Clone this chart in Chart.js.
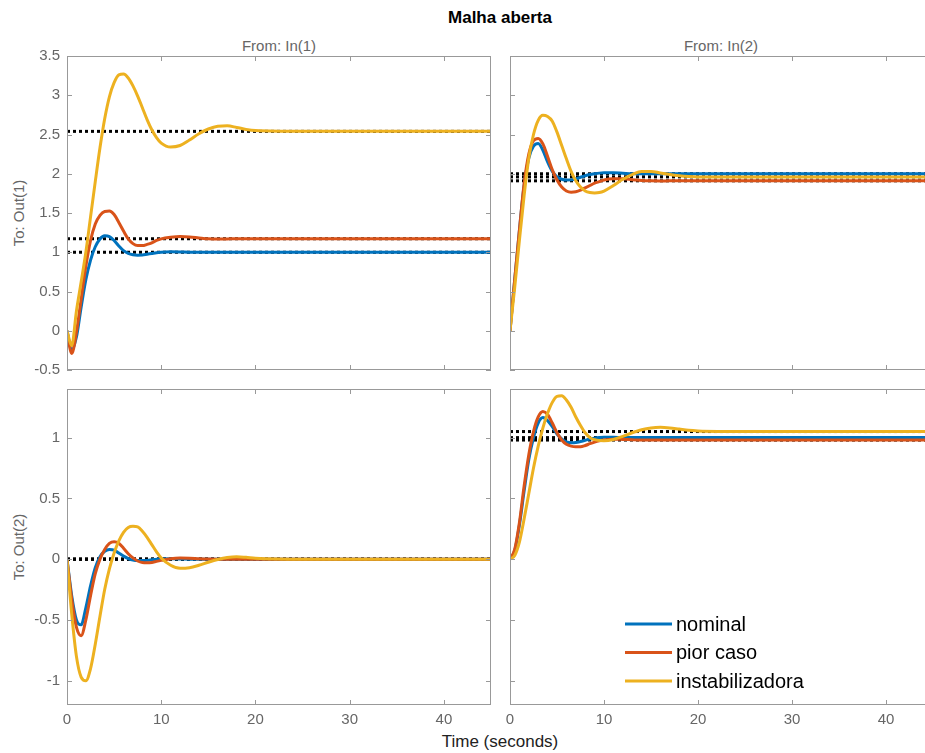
<!DOCTYPE html>
<html>
<head>
<meta charset="utf-8">
<title>Malha aberta</title>
<script src="https://cdn.jsdelivr.net/npm/chart.js@4.4.1/dist/chart.umd.min.js"></script>
<style>
  body { margin: 0; background: #fff; overflow: hidden; width: 925px; height: 753px; position: relative;
         font-family: "Liberation Sans", Arial, Helvetica, sans-serif; }
  canvas { position: absolute; }
  .lbl { position: absolute; white-space: nowrap; color: #666; font-size: 15px; transform: translate(-50%, -50%); }
  .rot { transform: translate(-50%, -50%) rotate(-90deg); }
</style>
</head>
<body>
<div class="lbl" style="left:500px;top:18px;color:#000;font-weight:bold;font-size:17px;">Malha aberta</div>
<div class="lbl" style="left:279px;top:45px;">From: In(1)</div>
<div class="lbl" style="left:721px;top:45px;">From: In(2)</div>
<div class="lbl rot" style="left:18px;top:213px;">To: Out(1)</div>
<div class="lbl rot" style="left:18px;top:547px;">To: Out(2)</div>
<div class="lbl" style="left:500px;top:742px;color:#222;font-size:17px;">Time (seconds)</div>

<canvas id="c11" width="495" height="324" style="left:0;top:50px;"></canvas>
<canvas id="c12" width="431" height="324" style="left:506px;top:50px;"></canvas>
<canvas id="c21" width="495" height="352" style="left:0;top:383px;"></canvas>
<canvas id="c22" width="431" height="352" style="left:506px;top:383px;"></canvas>

<script>
// time samples (s) shared by every response
var t = [0, 0.5, 1, 1.5, 2, 2.5, 3, 3.5, 4, 4.5, 5, 5.5, 6, 6.5, 7, 7.5, 8, 8.5, 9, 9.5, 10,
         11, 12, 13, 14, 15, 16, 17, 18, 19, 20, 25, 30, 35, 40, 45];

var seriesNames = ['nominal', 'pior caso', 'instabilizadora'];
var seriesColors = ['#0072BD', '#D95319', '#EDB120'];

var xTicks = [0, 10, 20, 30, 40];
var yTicksTop = [-0.5, 0, 0.5, 1, 1.5, 2, 2.5, 3, 3.5];
var yTicksBottom = [-1, -0.5, 0, 0.5, 1];

// From In(1) -> Out(1)
var o1i1Nominal = [0, -0.25, -0.08, 0.3, 0.65, 0.9, 1.07, 1.17, 1.21, 1.2, 1.15, 1.08, 1.02, 0.985, 0.968, 0.963, 0.965, 0.975, 0.985, 0.995, 1.0,
                   1.005, 1.004, 1.0, 1.0, 1.0, 1.0, 1.0, 1.0, 1.0, 1.0, 1.0, 1.0, 1.0, 1.0, 1.0];
var o1i1Pior = [0, -0.29, -0.02, 0.4, 0.82, 1.15, 1.36, 1.47, 1.52, 1.525, 1.48, 1.38, 1.27, 1.17, 1.11, 1.085, 1.085, 1.1, 1.12, 1.15, 1.17,
                1.19, 1.2, 1.195, 1.183, 1.172, 1.168, 1.17, 1.172, 1.172, 1.172, 1.172, 1.172, 1.172, 1.172, 1.172];
var o1i1Instab = [0, -0.19, 0.25, 0.62, 1.0, 1.45, 1.9, 2.33, 2.7, 2.98, 3.16, 3.26, 3.27, 3.22, 3.12, 2.99, 2.84, 2.69, 2.56, 2.46, 2.39,
                  2.34, 2.36, 2.43, 2.51, 2.57, 2.605, 2.61, 2.59, 2.565, 2.55, 2.54, 2.54, 2.54, 2.54, 2.54];
var o1i1Steady = [1.0, 1.172, 2.54];

// From In(2) -> Out(1)
var o1i2Nominal = [0, 0.65, 1.28, 1.85, 2.2, 2.35, 2.385, 2.3, 2.15, 2.03, 1.96, 1.93, 1.92, 1.922, 1.935, 1.955, 1.975, 1.99, 2.0, 2.008, 2.012,
                   2.012, 2.006, 2.0, 2.0, 2.0, 2.0, 2.0, 2.0, 2.0, 2.0, 2.0, 2.0, 2.0, 2.0, 2.0];
var o1i2Pior = [0, 0.65, 1.28, 1.87, 2.25, 2.42, 2.45, 2.38, 2.22, 2.05, 1.92, 1.83, 1.78, 1.765, 1.77, 1.79, 1.82, 1.85, 1.88, 1.9, 1.92,
                1.935, 1.935, 1.925, 1.915, 1.91, 1.908, 1.91, 1.91, 1.91, 1.91, 1.91, 1.91, 1.91, 1.91, 1.91];
var o1i2Instab = [0, 0.55, 1.15, 1.72, 2.2, 2.5, 2.68, 2.745, 2.73, 2.67, 2.53, 2.36, 2.19, 2.03, 1.91, 1.83, 1.78, 1.76, 1.755, 1.76, 1.78,
                  1.85, 1.93, 1.99, 2.03, 2.03, 2.01, 1.99, 1.975, 1.965, 1.96, 1.96, 1.96, 1.96, 1.96, 1.96];
var o1i2Steady = [2.0, 1.91, 1.96];

// From In(1) -> Out(2)
var o2i1Nominal = [0, -0.3, -0.5, -0.54, -0.4, -0.22, -0.07, 0.02, 0.065, 0.08, 0.075, 0.05, 0.025, 0.005, -0.008, -0.012, -0.012, -0.01, -0.005, 0, 0.002,
                   0.003, 0.002, 0, 0, 0, 0, 0, 0, 0, 0, 0, 0, 0, 0, 0];
var o2i1Pior = [0, -0.33, -0.56, -0.63, -0.5, -0.3, -0.12, 0.0, 0.08, 0.13, 0.143, 0.13, 0.09, 0.045, 0.01, -0.015, -0.028, -0.03, -0.027, -0.018, -0.01,
                0.004, 0.009, 0.008, 0.004, 0.001, 0, 0, 0, 0, 0, 0, 0, 0, 0, 0];
var o2i1Instab = [0, -0.45, -0.8, -0.97, -1.0, -0.9, -0.7, -0.47, -0.25, -0.08, 0.05, 0.15, 0.22, 0.26, 0.27, 0.265, 0.23, 0.18, 0.12, 0.06, 0.01,
                  -0.05, -0.075, -0.07, -0.05, -0.025, -0.003, 0.013, 0.02, 0.015, 0.008, 0, 0, 0, 0, 0];
var o2i1Steady = [0, 0, 0];

// From In(2) -> Out(2)
var o2i2Nominal = [0, 0.07, 0.28, 0.56, 0.82, 1.0, 1.12, 1.165, 1.14, 1.09, 1.03, 0.99, 0.965, 0.958, 0.96, 0.968, 0.978, 0.988, 0.995, 1.0, 1.003,
                   1.003, 1.0, 1.0, 1.0, 1.0, 1.0, 1.0, 1.0, 1.0, 1.0, 1.0, 1.0, 1.0, 1.0, 1.0];
var o2i2Pior = [0, 0.08, 0.3, 0.6, 0.86, 1.05, 1.17, 1.215, 1.19, 1.12, 1.04, 0.98, 0.945, 0.93, 0.925, 0.925, 0.935, 0.95, 0.963, 0.973, 0.98,
                0.987, 0.985, 0.982, 0.98, 0.98, 0.98, 0.98, 0.98, 0.98, 0.98, 0.98, 0.98, 0.98, 0.98, 0.98];
var o2i2Instab = [0, 0.03, 0.14, 0.33, 0.54, 0.75, 0.93, 1.08, 1.2, 1.29, 1.34, 1.345, 1.31, 1.25, 1.17, 1.1, 1.04, 1.0, 0.983, 0.976, 0.975,
                  0.985, 1.01, 1.04, 1.065, 1.08, 1.085, 1.08, 1.07, 1.06, 1.055, 1.05, 1.05, 1.05, 1.05, 1.05];
var o2i2Steady = [1.0, 0.98, 1.05];

var fontFamily = '"Liberation Sans", Arial, Helvetica, sans-serif';
var axisColor = '#999';
var labelColor = '#666';

// matlab style box: full frame with inward ticks on all four sides
var boxTicks = {
  id: 'boxTicks',
  afterDatasetsDraw: function(chart, args, opts) {
    var ctx = chart.ctx, a = chart.chartArea;
    var xs = chart.scales.x, ys = chart.scales.y;
    ctx.save();
    ctx.strokeStyle = axisColor;
    ctx.lineWidth = 1;
    ctx.strokeRect(Math.round(a.left) + 0.5, Math.round(a.top) + 0.5, Math.round(a.width) - 1, Math.round(a.height) - 1);
    ctx.beginPath();
    xTicks.forEach(function(v) {
      var px = Math.round(xs.getPixelForValue(v)) + 0.5;
      ctx.moveTo(px, a.bottom); ctx.lineTo(px, a.bottom - 5);
      ctx.moveTo(px, a.top); ctx.lineTo(px, a.top + 5);
    });
    opts.yTicks.forEach(function(v) {
      var py = Math.round(ys.getPixelForValue(v)) + 0.5;
      ctx.moveTo(a.left, py); ctx.lineTo(a.left + 5, py);
      ctx.moveTo(a.right, py); ctx.lineTo(a.right - 5, py);
    });
    ctx.stroke();
    ctx.restore();
  }
};

// legend drawn inside the lower right panel
var insideLegend = {
  id: 'insideLegend',
  afterDatasetsDraw: function(chart, args, opts) {
    if (!opts.show) return;
    var ctx = chart.ctx, a = chart.chartArea;
    ctx.save();
    ctx.font = '20px ' + fontFamily;
    ctx.textBaseline = 'middle';
    ctx.fillStyle = '#000';
    ctx.lineWidth = 3;
    for (var i = 0; i < seriesNames.length; i++) {
      var y = a.top + 235 + i * 28.5;
      ctx.strokeStyle = seriesColors[i];
      ctx.beginPath();
      ctx.moveTo(a.left + 115, y); ctx.lineTo(a.left + 162, y);
      ctx.stroke();
      ctx.fillText(seriesNames[i], a.left + 166, y + 1);
    }
    ctx.restore();
  }
};

function makePanel(canvasId, series, steady, yMin, yMax, yTicks, showY, showX, showLegend) {
  var datasets = [];
  steady.forEach(function(v) {
    datasets.push({
      label: 'steady', data: [{x: t[0], y: v}, {x: t[t.length - 1], y: v}],
      borderColor: '#000', borderWidth: 3, borderDash: [3, 3], pointRadius: 0, order: 10
    });
  });
  series.forEach(function(vals, i) {
    datasets.push({
      label: seriesNames[i],
      data: t.map(function(tv, k) { return {x: tv, y: vals[k]}; }),
      borderColor: seriesColors[i], borderWidth: 3, pointRadius: 0,
      cubicInterpolationMode: 'monotone', fill: false,
      order: series.length - i   // yellow ends up on top, like the matlab plot
    });
  });

  var tickFont = {family: fontFamily, size: 15};
  var padLeft = showY ? 0 : 4;
  var padBottom = showX ? 0 : 4;

  return new Chart(document.getElementById(canvasId), {
    type: 'line',
    data: {datasets: datasets},
    plugins: [boxTicks, insideLegend],
    options: {
      responsive: false,
      animation: false,
      events: [],
      layout: {padding: {left: padLeft, right: 4, top: 6, bottom: padBottom}},
      plugins: {
        legend: {display: false},
        tooltip: {enabled: false},
        boxTicks: {yTicks: yTicks},
        insideLegend: {show: showLegend}
      },
      scales: {
        x: {
          type: 'linear', min: 0, max: 45, display: showX,
          grid: {display: false, drawTicks: false}, border: {display: false},
          afterBuildTicks: function(s) { s.ticks = xTicks.map(function(v) { return {value: v}; }); },
          afterFit: function(s) {
            s.height = showX ? 30 : 0;
            s.paddingLeft = 0; s.paddingRight = 0;
          },
          ticks: {color: labelColor, font: tickFont, padding: 6, maxRotation: 0, autoSkip: false,
                  callback: function(v) { return String(v); }}
        },
        y: {
          type: 'linear', min: yMin, max: yMax, display: showY,
          grid: {display: false, drawTicks: false}, border: {display: false},
          afterBuildTicks: function(s) { s.ticks = yTicks.map(function(v) { return {value: v}; }); },
          afterFit: function(s) {
            s.width = showY ? 67 : 0;
            s.paddingTop = 0; s.paddingBottom = 0;
          },
          ticks: {color: labelColor, font: tickFont, padding: 7, autoSkip: false,
                  callback: function(v) { return String(v); }}
        }
      }
    }
  });
}

makePanel('c11', [o1i1Nominal, o1i1Pior, o1i1Instab], o1i1Steady, -0.5, 3.5, yTicksTop, true, false, false);
makePanel('c12', [o1i2Nominal, o1i2Pior, o1i2Instab], o1i2Steady, -0.5, 3.5, yTicksTop, false, false, false);
makePanel('c21', [o2i1Nominal, o2i1Pior, o2i1Instab], o2i1Steady, -1.2, 1.4, yTicksBottom, true, true, false);
makePanel('c22', [o2i2Nominal, o2i2Pior, o2i2Instab], o2i2Steady, -1.2, 1.4, yTicksBottom, false, true, true);
</script>
</body>
</html>
